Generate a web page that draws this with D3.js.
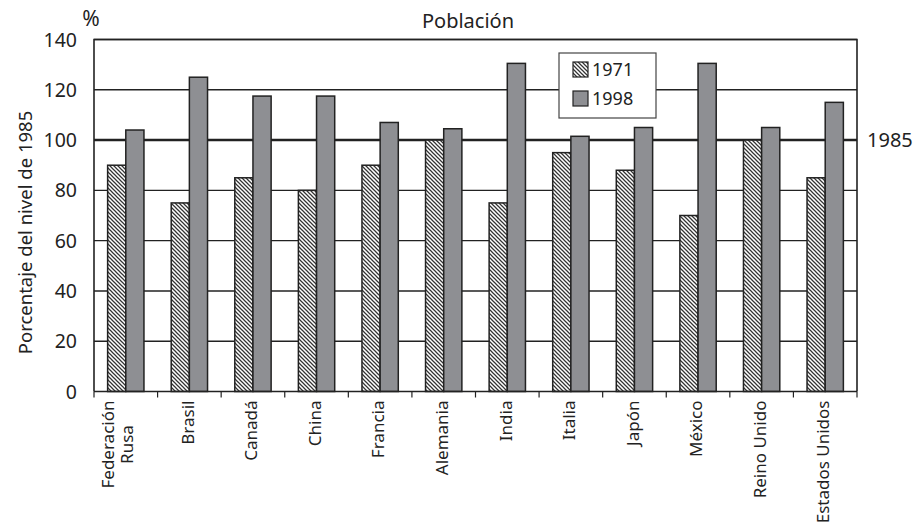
<!DOCTYPE html>
<html><head><meta charset="utf-8">
<script src="https://cdn.jsdelivr.net/npm/d3@7"></script>
<style>body{margin:0;background:#fff}svg{display:block}text{font-family:"Noto Sans",sans-serif;fill:#222}</style>
</head><body><svg id="c" width="921" height="525"></svg>
<script>
const categories = ["Federación\nRusa","Brasil","Canadá","China","Francia","Alemania","India","Italia","Japón","México","Reino Unido","Estados Unidos"];
const series = ["1971","1998"];
const values1971 = [90,75,85,80,90,100,75,95,88,70,100,85];
const values1998 = [104,125,117.5,117.5,107,104.5,130.5,101.5,105,130.5,105,115];
const yTicks = [0,20,40,60,80,100,120,140];

const svg = d3.select("#c");
const m = {l:94, r:857, t:39.5, b:391.5};
const x = d3.scaleBand().domain(categories).range([m.l, m.r]).paddingInner(0).paddingOuter(0);
const y = d3.scaleLinear().domain([0,140]).range([m.b, m.t]);
const bw = x.bandwidth()/3.5;

const defs = svg.append("defs");
const pat = defs.append("pattern").attr("id","hatch").attr("patternUnits","userSpaceOnUse").attr("width",4).attr("height",4);
pat.append("rect").attr("width",4).attr("height",4).attr("fill","#fff");
pat.append("path").attr("d","M-1,-1 L5,5 M-1,3 L1,5 M3,-1 L5,1").attr("stroke","#333").attr("stroke-width",1.25);

// gridlines
svg.append("g").selectAll("line").data(yTicks.filter(d=>d>0)).join("line")
  .attr("x1",m.l).attr("x2",m.r).attr("y1",d=>y(d)).attr("y2",d=>y(d))
  .attr("stroke","#222").attr("stroke-width",d=>d===100?2.6:1.4);

// bars
const data = categories.map((c,i)=>({c, v:[values1971[i], values1998[i]]}));
const g = svg.append("g");
data.forEach(d=>{
  const cx = x(d.c)+x.bandwidth()/2;
  d.v.forEach((v,j)=>{
    g.append("rect").attr("x", cx-bw+j*bw).attr("y", y(v)).attr("width", bw).attr("height", y(0)-y(v))
      .attr("fill", j===0?"url(#hatch)":"#8e8f93").attr("stroke","#222").attr("stroke-width",1.5);
  });
});

// border
svg.append("path").attr("d",`M${m.l},${m.b} V${m.t} H${m.r} V${m.b}`).attr("fill","none").attr("stroke","#222").attr("stroke-width",1.6);

// x axis
const xa = svg.append("g");
xa.append("line").attr("x1",m.l).attr("x2",m.r).attr("y1",m.b).attr("y2",m.b).attr("stroke","#222").attr("stroke-width",1.6);
const bounds = categories.map(c=>x(c)).concat([m.r]);
xa.selectAll("line.t").data(bounds).join("line").attr("class","t")
  .attr("x1",d=>d).attr("x2",d=>d).attr("y1",m.b).attr("y2",m.b+6).attr("stroke","#222").attr("stroke-width",1.2);
categories.forEach(c=>{
  const lines = c.split("\n");
  const cx = x(c)+x.bandwidth()/2;
  const t = svg.append("text").attr("transform",`translate(${cx},${m.b+9}) rotate(-90)`)
    .attr("text-anchor","end").style("font-size","17px");
  const spans = lines.map((l,i)=>t.append("tspan").attr("x",0)
    .attr("dy", i===0 ? (lines.length===1? "0.25em" : "-0.68em") : "1.12em").text(l));
  if (lines.length > 1) {
    const maxLen = d3.max(spans, s=>s.node().getComputedTextLength());
    spans.forEach(s=>s.attr("text-anchor","middle").attr("x",-maxLen/2));
  }
});

// y tick labels
svg.append("g").selectAll("text").data(yTicks).join("text")
  .attr("x",77).attr("y",d=>y(d)).attr("dy","0.36em").attr("text-anchor","end")
  .style("font-size","19.5px").text(d=>d);

svg.append("text").attr("x",91).attr("y",26).attr("text-anchor","middle").style("font-size","21px").text("%");
svg.append("text").attr("x",468).attr("y",28).attr("text-anchor","middle").style("font-size","20px").text("Población");
svg.append("text").attr("transform",`translate(32,${(m.t+m.b)/2+17}) rotate(-90)`).attr("text-anchor","middle").style("font-size","18.5px").text("Porcentaje del nivel de 1985");
svg.append("text").attr("x",867).attr("y",y(100)).attr("dy","0.36em").style("font-size","20px").text("1985");

// legend
const lg = svg.append("g");
lg.append("rect").attr("x",559).attr("y",53).attr("width",97).attr("height",65).attr("fill","#fff").attr("stroke","#444").attr("stroke-width",1.2);
series.forEach((s,i)=>{
  const yy = 69.5 + i*29;
  lg.append("rect").attr("x",573).attr("y",yy-7.5).attr("width",15).attr("height",15)
    .attr("fill", i===0?"url(#hatch)":"#8e8f93").attr("stroke","#222").attr("stroke-width",1.2);
  lg.append("text").attr("x",592).attr("y",yy).attr("dy","0.36em").style("font-size","18px").text(s);
});
</script></body></html>
